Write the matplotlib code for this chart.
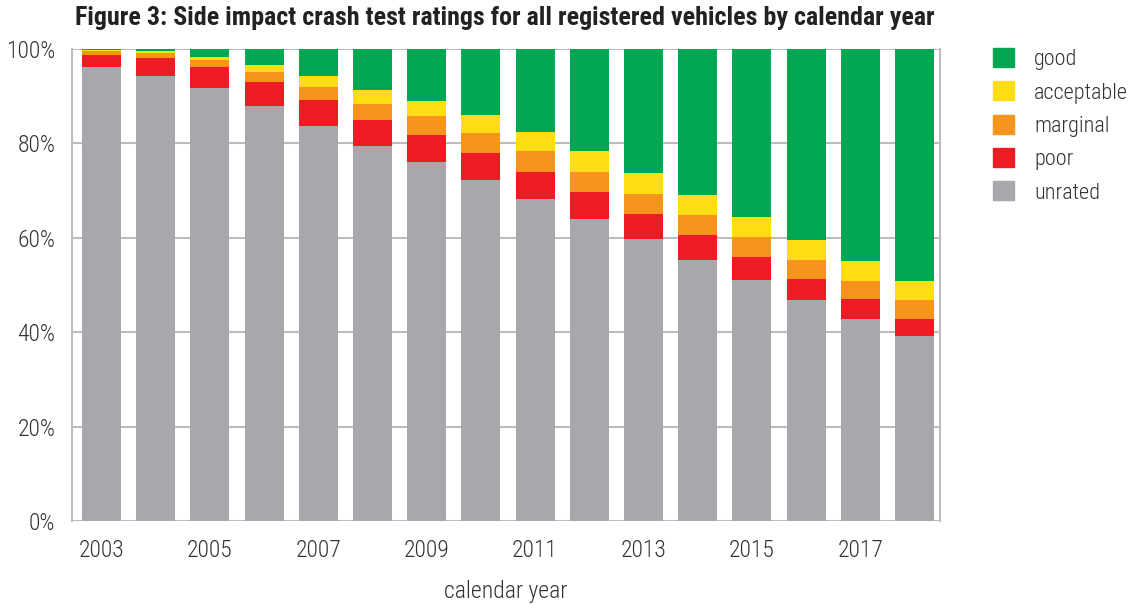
import matplotlib
matplotlib.use("Agg")
import matplotlib.pyplot as plt
from matplotlib.patches import Patch
import numpy as np

years = list(range(2003, 2019))
unrated = [96.2, 94.3, 91.7, 87.9, 83.7, 79.4, 76.1, 72.2, 68.2, 64.0, 59.7, 55.3, 51.1, 46.8, 42.8, 39.2]
poor = [2.5, 3.8, 4.5, 5.1, 5.5, 5.6, 5.7, 5.8, 5.7, 5.7, 5.3, 5.3, 4.8, 4.5, 4.2, 3.6]
marginal = [0.9, 1.1, 1.5, 2.1, 2.7, 3.3, 4.0, 4.2, 4.5, 4.2, 4.3, 4.2, 4.3, 4.0, 3.8, 4.0]
acceptable = [0.2, 0.3, 0.7, 1.5, 2.4, 3.0, 3.2, 3.8, 4.0, 4.5, 4.4, 4.3, 4.2, 4.2, 4.3, 4.0]
good = [0.2, 0.5, 1.6, 3.4, 5.7, 8.7, 11.0, 14.0, 17.6, 21.6, 26.3, 30.9, 35.6, 40.5, 44.9, 49.2]
tick_years = [2003, 2005, 2007, 2009, 2011, 2013, 2015, 2017]
yticks = [0, 20, 40, 60, 80, 100]

series = [("unrated", unrated, "#a7a8ac"), ("poor", poor, "#ed1c24"),
          ("marginal", marginal, "#f7941d"), ("acceptable", acceptable, "#ffdd15"),
          ("good", good, "#00a651")]

plt.rcParams['font.family'] = ['Roboto Condensed', 'Archivo Narrow', 'PT Sans Narrow',
                               'IBM Plex Sans Condensed', 'DejaVu Sans']
LW = 'light'

fig = plt.figure(figsize=(11.37, 6.04), dpi=100)
ax = fig.add_axes([72/1137, 83/604, (940-72)/1137, (521-49)/604])

bottom = np.zeros(len(years))
for name, vals, col in series:
    ax.bar(years, vals, bottom=bottom, width=0.72, color=col, zorder=3, label=name)
    bottom += np.array(vals)

ax.set_xlim(2002.455, 2018.47)
ax.set_ylim(0, 100)
ax.set_yticks(yticks)
ax.set_yticklabels([f"{v}%" for v in yticks], fontsize=17, color="#333333", fontweight=LW)
ax.set_xticks(tick_years)
ax.set_xticklabels([str(y) for y in tick_years], fontsize=17, color="#333333", fontweight=LW)
ax.tick_params(axis='both', length=0)
ax.tick_params(axis='y', pad=12)
ax.tick_params(axis='x', pad=13)
ax.grid(axis='y', color="#bdbdbd", linewidth=1.5, zorder=0)
for s in ['top', 'bottom']:
    ax.spines[s].set_visible(False)
for s in ['left', 'right']:
    ax.spines[s].set_color("#bdbdbd")
    ax.spines[s].set_linewidth(1.5)
ax.set_xlabel("calendar year", fontsize=17, color="#333333", labelpad=13, fontweight=LW)

fig.text(75/1137, 1 - 18/604, "Figure 3: Side impact crash test ratings for all registered vehicles by calendar year",
         fontsize=18.7, fontweight='bold', color="#222222", va='center', ha='left')

handles = [Patch(color=c) for _, _, c in reversed(series)]
labels = [n for n, _, _ in reversed(series)]
fig.legend(handles, labels, loc='upper left', bbox_to_anchor=(973/1137, 1 - 28/604),
           frameon=False, prop={'size': 16, 'weight': LW}, handlelength=0.95, handleheight=0.95,
           labelspacing=0.5, handletextpad=0.9, labelcolor="#333333")

fig.savefig("out.png", dpi=100)
